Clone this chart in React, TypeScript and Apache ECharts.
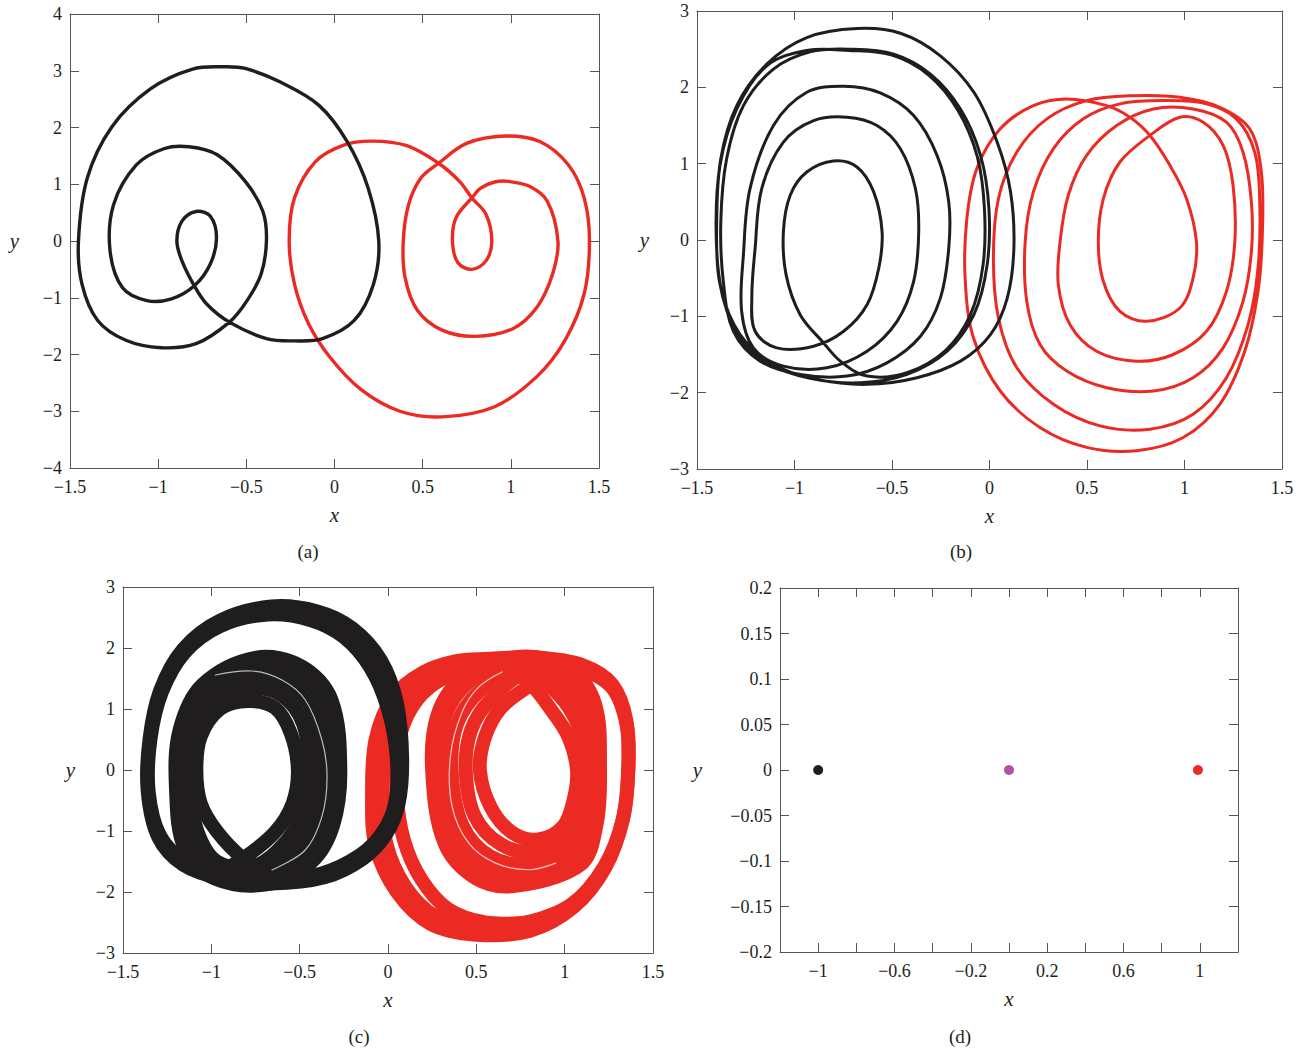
import React, { useEffect, useRef } from "react";
import * as echarts from "echarts";

const FONT = "Liberation Serif";
const INK = "#231f20";
const AXIS = "#555555";
const RED = "#ec2a24";
const BLACK = "#1f1d1d";
const PURPLE = "#b4519e";

// ---------- panel (a) ----------
const aRed: number[][] = [
  [0.689, 0.41], [0.779, 0.76], [0.829, 0.93], [0.908, 1.04], [0.988, 1.05], [1.108, 0.96], [1.207, 0.7],
  [1.267, 0], [1.237, -0.58], [1.147, -1.17], [1.008, -1.55], [0.799, -1.68], [0.61, -1.57], [0.47, -1.22],
  [0.4, -0.64], [0.39, 0], [0.42, 0.64], [0.49, 1.11], [0.59, 1.37], [0.749, 1.72], [0.968, 1.85],
  [1.167, 1.75], [1.327, 1.34], [1.416, 0.76], [1.446, 0], [1.416, -0.93], [1.307, -1.75], [1.147, -2.39],
  [0.908, -2.92], [0.61, -3.1], [0.371, -3.0], [0.151, -2.62], [-0.028, -2.04], [-0.147, -1.46],
  [-0.227, -0.76], [-0.257, 0], [-0.227, 0.76], [-0.108, 1.4], [0.052, 1.69], [0.211, 1.76], [0.41, 1.68],
  [0.59, 1.37], [0.709, 1.05], [0.779, 0.76], [0.859, 0.47], [0.892, 0], [0.859, -0.35], [0.779, -0.5],
  [0.699, -0.38], [0.669, 0], [0.689, 0.41],
];
const aBlack: number[][] = [
  [-0.725, -1.11], [-0.795, -0.79], [-0.865, -0.35], [-0.894, 0], [-0.865, 0.35], [-0.785, 0.52],
  [-0.705, 0.44], [-0.669, 0.06], [-0.705, -0.41], [-0.795, -0.79], [-0.924, -1.02], [-1.064, -1.05],
  [-1.203, -0.82], [-1.273, -0.17], [-1.253, 0.64], [-1.124, 1.34], [-0.964, 1.63], [-0.825, 1.66],
  [-0.665, 1.52], [-0.506, 1.05], [-0.406, 0.52], [-0.386, 0], [-0.416, -0.58], [-0.496, -1.05],
  [-0.596, -1.43], [-0.785, -1.81], [-0.984, -1.88], [-1.183, -1.75], [-1.343, -1.4], [-1.432, -0.76],
  [-1.452, 0], [-1.402, 1.11], [-1.263, 2.01], [-1.044, 2.68], [-0.805, 3.03], [-0.625, 3.07],
  [-0.506, 3.04], [-0.307, 2.8], [-0.088, 2.39], [0.072, 1.75], [0.191, 0.93], [0.251, 0], [0.221, -0.76],
  [0.112, -1.4], [-0.068, -1.72], [-0.227, -1.76], [-0.386, -1.72], [-0.596, -1.43], [-0.725, -1.11],
];

// ---------- panel (b) ----------
const bBlack: number[][] = [
  [-0.423, -1.739], [-0.628, -1.783], [-0.765, -1.587], [-0.851, -1.348], [-0.971, -0.978], [-1.043, -0.457],
  [-1.057, 0.109], [-1.022, 0.587], [-0.937, 0.891], [-0.8, 1.035], [-0.68, 0.957], [-0.594, 0.63],
  [-0.551, 0.109], [-0.568, -0.37], [-0.628, -0.848], [-0.748, -1.196], [-0.902, -1.391], [-1.091, -1.413],
  [-1.202, -1.196], [-1.219, -0.761], [-1.202, -0.109], [-1.168, 0.674], [-1.057, 1.283], [-0.902, 1.565],
  [-0.731, 1.609], [-0.577, 1.5], [-0.457, 1.196], [-0.38, 0.674], [-0.363, 0.109], [-0.389, -0.543],
  [-0.474, -1.065], [-0.628, -1.457], [-0.834, -1.674], [-1.057, -1.652], [-1.211, -1.413], [-1.271, -0.935],
  [-1.262, -0.196], [-1.228, 0.674], [-1.108, 1.5], [-0.937, 1.935], [-0.748, 2.013], [-0.56, 1.926],
  [-0.389, 1.63], [-0.269, 1.109], [-0.209, 0.5], [-0.209, -0.109], [-0.252, -0.761], [-0.354, -1.261],
  [-0.526, -1.609], [-0.731, -1.783], [-0.971, -1.761], [-1.176, -1.587], [-1.313, -1.196], [-1.365, -0.543],
  [-1.378, 0.239], [-1.348, 1.065], [-1.262, 1.761], [-1.108, 2.239], [-0.92, 2.465], [-0.714, 2.5],
  [-0.491, 2.435], [-0.303, 2.174], [-0.149, 1.717], [-0.046, 1.109], [-0.003, 0.413], [-0.012, -0.326],
  [-0.08, -0.978], [-0.217, -1.457], [-0.423, -1.761], [-0.663, -1.87], [-0.92, -1.813], [-1.142, -1.609],
  [-1.296, -1.217], [-1.385, -0.543], [-1.399, 0.239], [-1.378, 1.065], [-1.296, 1.761], [-1.142, 2.304],
  [-0.937, 2.652], [-0.68, 2.77], [-0.457, 2.709], [-0.252, 2.413], [-0.08, 1.935], [0.039, 1.283],
  [0.108, 0.63], [0.125, -0.109], [0.091, -0.761], [0.005, -1.239], [-0.149, -1.587], [-0.372, -1.804],
  [-0.628, -1.891], [-0.885, -1.826], [-1.108, -1.63], [-1.279, -1.239], [-1.373, -0.674], [-1.402, 0.109],
  [-1.382, 0.978], [-1.296, 1.717], [-1.142, 2.283], [-0.937, 2.483], [-0.723, 2.483], [-0.5, 2.422],
  [-0.312, 2.161], [-0.163, 1.704], [-0.063, 1.096], [-0.026, 0.413], [-0.033, -0.326], [-0.098, -0.978],
  [-0.226, -1.448], [-0.423, -1.739],
];
const bRed: number[][] = [
  [0.396, 1.848], [0.601, 1.761], [0.72, 1.609], [0.823, 1.37], [0.925, 0.978], [1.01, 0.543], [1.061, -0.022],
  [1.044, -0.5], [0.976, -0.891], [0.805, -1.065], [0.669, -0.935], [0.584, -0.543], [0.558, -0.022],
  [0.584, 0.543], [0.669, 1.022], [0.823, 1.37], [0.976, 1.609], [1.096, 1.543], [1.198, 1.239],
  [1.249, 0.717], [1.258, -0.022], [1.215, -0.674], [1.113, -1.196], [0.942, -1.5], [0.754, -1.587],
  [0.549, -1.457], [0.413, -1.109], [0.353, -0.587], [0.362, -0.022], [0.404, 0.587], [0.498, 1.109],
  [0.652, 1.5], [0.84, 1.717], [1.044, 1.717], [1.215, 1.543], [1.3, 1.152], [1.343, 0.5], [1.343, -0.152],
  [1.3, -0.804], [1.198, -1.413], [1.044, -1.804], [0.84, -1.978], [0.601, -1.935], [0.396, -1.717],
  [0.259, -1.37], [0.191, -0.804], [0.183, -0.022], [0.225, 0.63], [0.328, 1.196], [0.481, 1.587],
  [0.669, 1.783], [0.908, 1.826], [1.113, 1.783], [1.266, 1.587], [1.36, 1.152], [1.386, 0.5], [1.377, -0.37],
  [1.326, -1.109], [1.215, -1.804], [1.044, -2.283], [0.823, -2.478], [0.567, -2.435], [0.328, -2.152],
  [0.14, -1.674], [0.046, -1.022], [0.02, -0.239], [0.046, 0.543], [0.14, 1.152], [0.294, 1.587],
  [0.498, 1.826], [0.737, 1.891], [0.976, 1.87], [1.181, 1.739], [1.334, 1.457], [1.394, 0.891],
  [1.399, 0.065], [1.377, -0.674], [1.309, -1.457], [1.181, -2.152], [0.993, -2.587], [0.754, -2.761],
  [0.498, -2.717], [0.259, -2.457], [0.055, -1.978], [-0.082, -1.283], [-0.125, -0.5], [-0.116, 0.283],
  [-0.065, 0.935], [0.055, 1.457], [0.225, 1.761], [0.396, 1.848],
];

// ---------- panel (c) ----------
const cBlackOuter1: number[][] = [
  [-0.66, 2.68], [-0.4, 2.6], [-0.2, 2.32], [-0.04, 1.8], [0.05, 1.1], [0.08, 0.2], [0.06, -0.55], [-0.01, -1.05],
  [-0.14, -1.45], [-0.36, -1.76], [-0.66, -1.86], [-0.94, -1.78], [-1.16, -1.55], [-1.3, -1.1], [-1.36, -0.35],
  [-1.35, 0.5], [-1.29, 1.3], [-1.16, 1.98], [-0.95, 2.45], [-0.66, 2.68],
];
const cBlackOuter2: number[][] = [
  [-0.68, 2.55], [-0.44, 2.46], [-0.25, 2.18], [-0.1, 1.68], [0.0, 1.0], [0.05, 0.2], [0.04, -0.55], [-0.03, -1.02],
  [-0.16, -1.4], [-0.38, -1.7], [-0.66, -1.8], [-0.92, -1.74], [-1.14, -1.52], [-1.29, -1.08], [-1.355, -0.35],
  [-1.345, 0.5], [-1.28, 1.28], [-1.15, 1.93], [-0.95, 2.36], [-0.68, 2.55],
];
const cBlackInner1: number[][] = [
  [-0.62, -1.8], [-0.82, -1.45], [-0.97, -1.0], [-1.06, -0.55], [-1.085, 0.0], [-1.06, 0.55], [-0.95, 1.0],
  [-0.79, 1.13], [-0.64, 1.02], [-0.55, 0.6], [-0.51, 0.0], [-0.54, -0.55], [-0.64, -1.02], [-0.82, -1.45],
  [-1.0, -1.75],
];
const cBlackInner2: number[][] = [
  [-0.78, 1.33], [-0.6, 1.22], [-0.48, 0.75], [-0.45, 0.0], [-0.48, -0.65], [-0.58, -1.18], [-0.76, -1.58],
  [-0.97, -1.5], [-1.08, -1.0], [-1.12, -0.3], [-1.1, 0.45], [-1.0, 1.0], [-0.78, 1.33],
];
const cBlackInner3: number[][] = [
  [-0.77, 1.53], [-0.56, 1.4], [-0.42, 0.9], [-0.39, 0.0], [-0.42, -0.75], [-0.53, -1.3], [-0.74, -1.72],
  [-1.0, -1.62], [-1.12, -1.1], [-1.16, -0.3], [-1.14, 0.55], [-1.02, 1.15], [-0.77, 1.53],
];
const cBlackInner4: number[][] = [
  [-0.76, 1.72], [-0.52, 1.58], [-0.36, 1.05], [-0.32, 0.0], [-0.36, -0.85], [-0.48, -1.42], [-0.71, -1.82],
  [-1.0, -1.72], [-1.15, -1.2], [-1.19, -0.3], [-1.17, 0.6], [-1.04, 1.3], [-0.76, 1.72],
];
const cBlackInner5: number[][] = [
  [-0.75, 1.84], [-0.49, 1.7], [-0.32, 1.15], [-0.27, 0.0], [-0.31, -0.9], [-0.43, -1.5], [-0.68, -1.87],
  [-0.98, -1.78], [-1.15, -1.3], [-1.2, -0.3], [-1.18, 0.65], [-1.05, 1.4], [-0.75, 1.84],
];
const cBlackThread: number[][] = [
  [-0.977, 1.557], [-0.77, 1.623], [-0.6, 1.475], [-0.468, 1.148], [-0.374, 0.492], [-0.345, -0.109],
  [-0.374, -0.765], [-0.468, -1.311], [-0.657, -1.639],
];
const cRedOuter1: number[][] = [
  [0.55, 1.82], [0.85, 1.84], [1.1, 1.72], [1.27, 1.4], [1.35, 0.8], [1.36, 0.0], [1.33, -0.8], [1.23, -1.6],
  [1.05, -2.25], [0.8, -2.64], [0.5, -2.7], [0.24, -2.52], [0.05, -2.0], [-0.07, -1.25], [-0.09, -0.4],
  [-0.07, 0.5], [0.03, 1.2], [0.2, 1.6], [0.38, 1.78], [0.55, 1.82],
];
const cRedOuter2: number[][] = [
  [0.5, 1.7], [0.8, 1.76], [1.08, 1.66], [1.265, 1.36], [1.35, 0.75], [1.36, 0.0], [1.33, -0.8], [1.225, -1.58],
  [1.04, -2.2], [0.78, -2.5], [0.5, -2.56], [0.27, -2.4], [0.1, -1.92], [-0.01, -1.2], [-0.03, -0.4],
  [-0.01, 0.45], [0.08, 1.1], [0.24, 1.5], [0.5, 1.7],
];
const cRedOuter3: number[][] = [
  [0.45, 1.62], [0.28, 1.45], [0.14, 1.05], [0.06, 0.45], [0.05, -0.4], [0.09, -1.15], [0.19, -1.8],
  [0.34, -2.28], [0.55, -2.5], [0.8, -2.5],
];
const cRedInner1: number[][] = [
  [0.63, 1.78], [0.81, 1.4], [0.92, 1.0], [1.02, 0.55], [1.07, 0.0], [1.05, -0.5], [0.99, -0.93], [0.85, -1.14],
  [0.7, -1.02], [0.58, -0.6], [0.52, 0.0], [0.55, 0.55], [0.64, 1.02], [0.81, 1.4], [0.99, 1.75],
];
const cRedInner2: number[][] = [
  [0.79, 1.58], [0.96, 1.25], [1.08, 0.7], [1.12, 0.0], [1.1, -0.6], [1.02, -1.08], [0.84, -1.34],
  [0.64, -1.22], [0.49, -0.75], [0.44, 0.0], [0.47, 0.65], [0.58, 1.15], [0.79, 1.58],
];
const cRedInner3: number[][] = [
  [0.76, 1.72], [0.98, 1.45], [1.12, 0.85], [1.16, 0.0], [1.14, -0.7], [1.05, -1.25], [0.8, -1.54],
  [0.58, -1.42], [0.42, -0.9], [0.36, 0.0], [0.39, 0.75], [0.52, 1.3], [0.76, 1.72],
];
const cRedInner4: number[][] = [
  [0.73, 1.82], [1.0, 1.6], [1.15, 1.0], [1.19, 0.0], [1.17, -0.8], [1.08, -1.42], [0.76, -1.72],
  [0.54, -1.6], [0.36, -1.05], [0.29, 0.0], [0.32, 0.85], [0.46, 1.45], [0.73, 1.82],
];
const cRedInner5: number[][] = [
  [0.72, 1.85], [1.02, 1.68], [1.17, 1.1], [1.2, 0.0], [1.18, -0.9], [1.09, -1.55], [0.72, -1.9],
  [0.5, -1.78], [0.32, -1.2], [0.25, 0.0], [0.28, 0.9], [0.42, 1.5], [0.72, 1.85],
];
const cRedThread: number[][] = [
  [0.646, 1.608], [0.514, 1.362], [0.42, 0.954], [0.353, 0.218], [0.363, -0.599], [0.457, -1.199],
  [0.609, -1.526], [0.798, -1.635], [0.949, -1.526],
];

// ---------- panel (d) ----------
const dBlack: number[][] = [[-1, 0]];
const dPurple: number[][] = [[0, 0]];
const dRed: number[][] = [[0.99, 0]];

// tick settings per panel: [min, max, interval]
const xTicksABC = [-1.5, 1.5, 0.5];
const yTicksA = [-4, 4, 1];
const yTicksBC = [-3, 3, 1];
const xTicksD = [-1.2, 1.2, 0.2];
const yTicksD = [-0.2, 0.2, 0.05];
const xLabelsD = [-1, -0.6, -0.2, 0.2, 0.6, 1];
const captions = ["(a)", "(b)", "(c)", "(d)"];

const grids = [
  { left: 70, top: 14, width: 529, height: 454 },
  { left: 697, top: 11, width: 585, height: 458 },
  { left: 123, top: 587, width: 530, height: 366 },
  { left: 780, top: 588, width: 458, height: 364 },
];
const captionPos = [
  [308, 551],
  [961, 551],
  [359, 1036],
  [960, 1036],
];
const yNameGap = [51, 48, 48, 78];

function fmt(v: number): string {
  const r = Math.round(v * 1000) / 1000;
  return String(r).replace("-", "\u2212");
}

function buildAxes() {
  const xAxis: any[] = [];
  const yAxis: any[] = [];
  const xT = [xTicksABC, xTicksABC, xTicksABC, xTicksD];
  const yT = [yTicksA, yTicksBC, yTicksBC, yTicksD];
  const lineStyle = { color: AXIS, width: 1 };
  const tick = { show: true, inside: true, length: 9, lineStyle: { color: AXIS, width: 1 } };
  const label = { color: INK, fontFamily: FONT, fontSize: 18 };
  const nameStyle = { fontFamily: FONT, fontStyle: "italic", fontSize: 21, color: INK };
  for (let g = 0; g < 4; g++) {
    const [xmin, xmax, xint] = xT[g];
    const [ymin, ymax, yint] = yT[g];
    const xFormatter =
      g === 3
        ? (v: number) => (xLabelsD.some((t) => Math.abs(t - v) < 1e-6) ? fmt(v) : "")
        : (v: number) => fmt(v);
    xAxis.push({
      type: "value", gridIndex: g, min: xmin, max: xmax, interval: xint, position: "bottom",
      axisLine: { show: true, onZero: false, lineStyle },
      axisTick: tick,
      axisLabel: { ...label, margin: 10, formatter: xFormatter },
      splitLine: { show: false },
      name: "x", nameLocation: "middle", nameGap: 36, nameTextStyle: nameStyle,
    });
    xAxis.push({
      type: "value", gridIndex: g, min: xmin, max: xmax, interval: xint, position: "top",
      axisLine: { show: true, onZero: false, lineStyle },
      axisTick: tick, axisLabel: { show: false }, splitLine: { show: false },
    });
    yAxis.push({
      type: "value", gridIndex: g, min: ymin, max: ymax, interval: yint, position: "left",
      axisLine: { show: true, onZero: false, lineStyle },
      axisTick: tick,
      axisLabel: { ...label, margin: 8, formatter: (v: number) => fmt(v) },
      splitLine: { show: false },
      name: "y", nameLocation: "middle", nameGap: yNameGap[g], nameRotate: 0, nameTextStyle: nameStyle,
    });
    yAxis.push({
      type: "value", gridIndex: g, min: ymin, max: ymax, interval: yint, position: "right",
      axisLine: { show: true, onZero: false, lineStyle },
      axisTick: tick, axisLabel: { show: false }, splitLine: { show: false },
    });
  }
  return { xAxis, yAxis };
}

// a trajectory drawn through the grid's own axes (api.coord), as a smooth stroke
function curve(g: number, pts: number[][], color: string, width: number, smooth = 0.35) {
  const last = pts[pts.length - 1];
  const closed = pts.length > 3 && pts[0][0] === last[0] && pts[0][1] === last[1];
  const used = closed ? pts.slice(0, -1) : pts;
  return {
    type: "custom",
    coordinateSystem: "cartesian2d",
    xAxisIndex: 2 * g,
    yAxisIndex: 2 * g,
    data: pts,
    silent: true,
    clip: true,
    renderItem: (params: any, api: any) => {
      if (params.dataIndex !== 0) return null;
      const points = used.map((d) => api.coord(d));
      return {
        type: closed ? "polygon" : "polyline",
        shape: { points, smooth },
        style: { fill: "none", stroke: color, lineWidth: width, lineJoin: "round", lineCap: "round" },
      };
    },
  };
}
function dot(data: number[][], color: string) {
  return {
    type: "scatter", xAxisIndex: 6, yAxisIndex: 6, data, symbol: "circle", symbolSize: 10, silent: true,
    itemStyle: { color, opacity: 1 },
  };
}

export default function App() {
  const ref = useRef<HTMLDivElement>(null);
  useEffect(() => {
    const chart = echarts.init(ref.current!, null, { renderer: "svg" });
    const { xAxis, yAxis } = buildAxes();
    const W = 14;
    const series: any[] = [
      curve(0, aRed, RED, 3.4),
      curve(0, aBlack, BLACK, 3.4),
      curve(1, bRed, RED, 3),
      curve(1, bBlack, BLACK, 3),
      curve(2, cRedOuter1, RED, W),
      curve(2, cRedOuter2, RED, W),
      curve(2, cRedOuter3, RED, W),
      curve(2, cRedInner1, RED, W),
      curve(2, cRedInner2, RED, W),
      curve(2, cRedInner3, RED, W),
      curve(2, cRedInner4, RED, W),
      curve(2, cRedInner5, RED, W),
      curve(2, cRedThread, "#f6c9c4", 1.2),
      curve(2, cBlackOuter1, BLACK, W),
      curve(2, cBlackOuter2, BLACK, W),
      curve(2, cBlackInner1, BLACK, W),
      curve(2, cBlackInner2, BLACK, W),
      curve(2, cBlackInner3, BLACK, W),
      curve(2, cBlackInner4, BLACK, W),
      curve(2, cBlackInner5, BLACK, W),
      curve(2, cBlackThread, "#bdbdbd", 1.2),
      dot(dBlack, BLACK),
      dot(dPurple, PURPLE),
      dot(dRed, RED),
    ];
    chart.setOption({
      animation: false,
      backgroundColor: "#ffffff",
      grid: grids.map((g) => ({ ...g, containLabel: false })),
      xAxis,
      yAxis,
      series,
      graphic: captions.map((t, i) => ({
        type: "text",
        x: captionPos[i][0],
        y: captionPos[i][1],
        style: { text: t, align: "center", verticalAlign: "middle", fontSize: 19, fontFamily: FONT, fill: INK },
      })),
    });
    return () => chart.dispose();
  }, []);
  return (
    <div
      ref={ref}
      style={{ position: "fixed", left: 0, top: 0, width: 1306, height: 1054, background: "#ffffff" }}
    />
  );
}
